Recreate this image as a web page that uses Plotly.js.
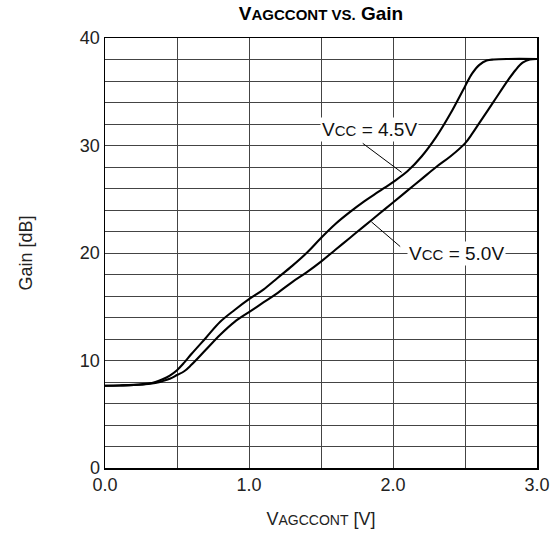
<!DOCTYPE html>
<html>
<head>
<meta charset="utf-8">
<script src="https://cdn.plot.ly/plotly-3.0.1.min.js"></script>
<style>html,body{margin:0;padding:0;background:#fff;}#chart{width:555px;height:534px;}</style>
</head>
<body>
<div id="chart"></div>
<script>
// Vcc = 4.5V curve
const x45 = [0.0, 0.1, 0.2, 0.3, 0.35, 0.4, 0.45, 0.5, 0.55, 0.6, 0.7, 0.8, 0.9, 1.0, 1.1, 1.2, 1.3, 1.4, 1.5, 1.6, 1.7, 1.8, 1.9, 2.0, 2.1, 2.2, 2.3, 2.4, 2.5, 2.55, 2.6, 2.65, 2.7, 2.8, 3.0];
const y45 = [7.65, 7.68, 7.73, 7.85, 8.0, 8.25, 8.6, 9.1, 9.8, 10.6, 12.1, 13.6, 14.7, 15.7, 16.6, 17.7, 18.8, 20.0, 21.4, 22.7, 23.8, 24.8, 25.7, 26.6, 27.6, 29.0, 30.8, 33.0, 35.5, 36.7, 37.5, 37.9, 38.0, 38.05, 38.05];
// Vcc = 5.0V curve
const x50 = [0.0, 0.1, 0.2, 0.3, 0.35, 0.4, 0.45, 0.5, 0.55, 0.6, 0.7, 0.8, 0.9, 1.0, 1.1, 1.2, 1.3, 1.4, 1.5, 1.6, 1.7, 1.8, 1.9, 2.0, 2.1, 2.2, 2.3, 2.4, 2.5, 2.55, 2.6, 2.7, 2.8, 2.85, 2.9, 2.95, 3.0];
const y50 = [7.65, 7.68, 7.72, 7.82, 7.92, 8.08, 8.3, 8.65, 9.0, 9.6, 11.0, 12.4, 13.6, 14.5, 15.4, 16.3, 17.3, 18.2, 19.2, 20.3, 21.4, 22.5, 23.6, 24.7, 25.8, 26.9, 28.0, 29.0, 30.2, 31.1, 32.1, 34.1, 36.1, 37.0, 37.7, 38.0, 38.05];

const xTickVals = [0, 1, 2, 3];
const xTickText = ['0.0', '1.0', '2.0', '3.0'];
const yTickVals = [0, 10, 20, 30, 40];

const labels = [
  {text: 'V<span style="font-size:15px">CC</span> = 4.5V', x: 1.84, y: 31.5, lx0: 1.79, ly0: 30.2, lx1: 2.06, ly1: 27.5},
  {text: 'V<span style="font-size:15px">CC</span> = 5.0V', x: 2.44, y: 20.0, lx0: 2.05, ly0: 20.6, lx1: 1.85, ly1: 22.9}
];

const FONT = 'Liberation Sans, Arial, sans-serif';
const lineStyle = {color: '#000', width: 2.1, shape: 'spline', smoothing: 1};

const traces = [
  {x: x45, y: y45, mode: 'lines', line: lineStyle, hoverinfo: 'skip', name: 'Vcc = 4.5V'},
  {x: x50, y: y50, mode: 'lines', line: lineStyle, hoverinfo: 'skip', name: 'Vcc = 5.0V'}
];

const layout = {
  width: 555, height: 534,
  margin: {l: 105, r: 18, t: 38, b: 66},
  paper_bgcolor: '#fff', plot_bgcolor: '#fff',
  showlegend: false,
  font: {family: FONT, color: '#222', size: 18},
  title: {
    text: '<b>V<span style="font-size:15px">AGCCONT VS.</span> Gain</b>',
    font: {family: FONT, size: 19, color: '#000'},
    x: 0.5, xref: 'paper', xanchor: 'center', y: 0.975, yref: 'container', yanchor: 'middle'
  },
  xaxis: {
    range: [0, 3], tickvals: xTickVals, ticktext: xTickText,
    showgrid: true, gridcolor: '#444', gridwidth: 1,
    minor: {dtick: 0.5, showgrid: true, gridcolor: '#444', gridwidth: 1},
    showline: true, linecolor: '#000', linewidth: 1.5, mirror: true,
    ticks: '', zeroline: false, fixedrange: true,
    tickfont: {size: 18, family: FONT, color: '#222'},
    title: {text: 'V<span style="font-size:14px">AGCCONT</span> [V]', font: {size: 18, family: FONT, color: '#222'}, standoff: 18}
  },
  yaxis: {
    range: [0, 40], tickvals: yTickVals,
    showgrid: true, gridcolor: '#444', gridwidth: 1,
    minor: {dtick: 2, showgrid: true, gridcolor: '#444', gridwidth: 1},
    showline: true, linecolor: '#000', linewidth: 1.5, mirror: true,
    ticks: '', zeroline: false, fixedrange: true,
    tickfont: {size: 18, family: FONT, color: '#222'},
    title: {text: 'Gain [dB]', font: {size: 18, family: FONT, color: '#222'}, standoff: 42}
  },
  shapes: labels.map(l => ({type: 'line', xref: 'x', yref: 'y', x0: l.lx0, y0: l.ly0, x1: l.lx1, y1: l.ly1, line: {color: '#000', width: 1}})),
  annotations: labels.map(l => ({
    text: l.text, x: l.x, y: l.y, xref: 'x', yref: 'y', showarrow: false,
    bgcolor: '#fff', borderpad: 1, font: {size: 19, family: FONT, color: '#111'}
  }))
};

Plotly.newPlot('chart', traces, layout, {displayModeBar: false, staticPlot: true});
</script>
</body>
</html>
